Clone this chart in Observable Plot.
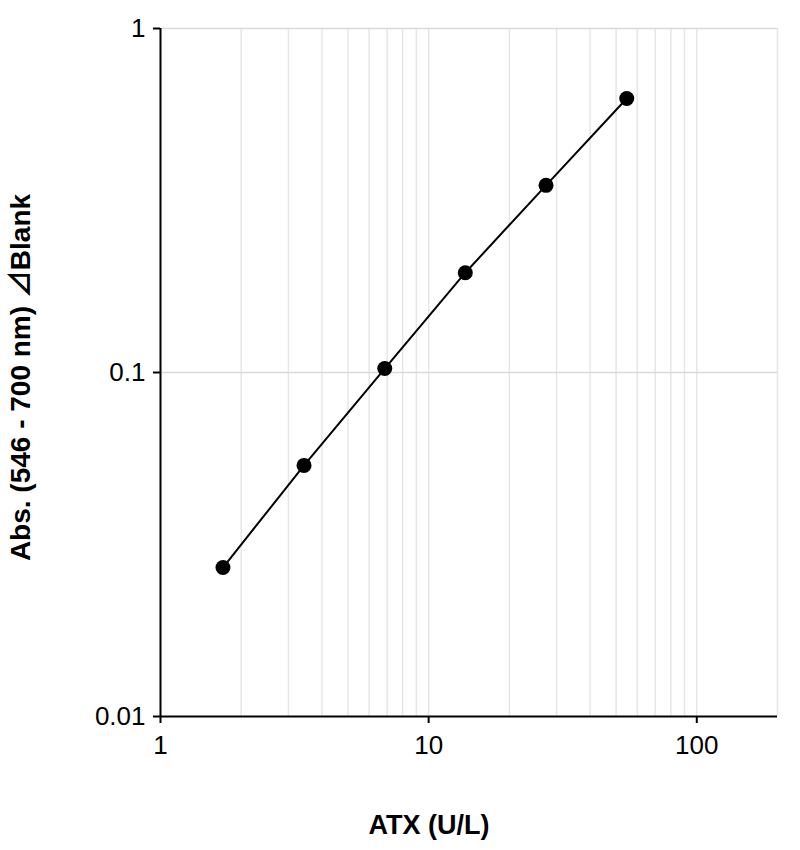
<!DOCTYPE html>
<html>
<head>
<meta charset="utf-8">
<script src="https://cdn.jsdelivr.net/npm/d3@7"></script>
<script src="https://cdn.jsdelivr.net/npm/@observablehq/plot@0.6"></script>
<style>
  body { margin: 0; background: #fff; }
  #chart svg { display: block; }
</style>
</head>
<body>
<div id="chart"></div>
<script>
const atx = [1.71, 3.43, 6.86, 13.7, 27.4, 54.8];
const absorbance = [0.0271, 0.0537, 0.1027, 0.195, 0.350, 0.626];
const xTicks = [1, 10, 100];
const yTicks = [0.01, 0.1, 1];
const xGrid = [2,3,4,5,6,7,8,9,10,20,30,40,50,60,70,80,90,100,200];
const yGrid = [0.1, 1];
const xLabel = "ATX (U/L)";
const yLabel = "Abs. (546 - 700 nm) ⊿Blank";

const data = atx.map((x, i) => ({x, y: absorbance[i]}));

const chart = Plot.plot({
  width: 800,
  height: 850,
  marginLeft: 160,
  marginRight: 23,
  marginTop: 28,
  marginBottom: 134,
  style: {fontFamily: "Liberation Sans, Arial, sans-serif", fontSize: "26px", color: "#000", background: "#fff"},
  x: {type: "log", domain: [1, 200]},
  y: {type: "log", domain: [0.01, 1]},
  marks: [
    Plot.ruleX(xGrid, {stroke: "#e6e6e6", strokeWidth: 1.5}),
    Plot.ruleY(yGrid, {stroke: "#d9d9d9", strokeWidth: 1.5}),
    Plot.axisX({ticks: xTicks, tickFormat: d => String(d), tickSize: 7, tickPadding: 12, strokeWidth: 2, label: null}),
    Plot.axisY({ticks: yTicks, tickFormat: d => String(d), tickSize: 7, tickPadding: 8, strokeWidth: 2, label: null}),
    Plot.ruleY([0.01], {stroke: "#000", strokeWidth: 2}),
    Plot.ruleX([1], {stroke: "#000", strokeWidth: 2}),
    Plot.line(data, {x: "x", y: "y", stroke: "#000", strokeWidth: 2}),
    Plot.dot(data, {x: "x", y: "y", r: 7.5, fill: "#000", stroke: "none"}),
    Plot.text([xLabel], {frameAnchor: "bottom", dy: 117, dx: -40, fontWeight: "bold", fontSize: 27, fill: "#000"}),
    Plot.text([yLabel], {frameAnchor: "left", textAnchor: "middle", dx: -139, dy: 5, rotate: -90, fontWeight: "bold", fontSize: 28, fill: "#000", fontFamily: "Liberation Sans, Noto Sans CJK JP, sans-serif"})
  ]
});
document.getElementById("chart").appendChild(chart);
</script>
</body>
</html>
